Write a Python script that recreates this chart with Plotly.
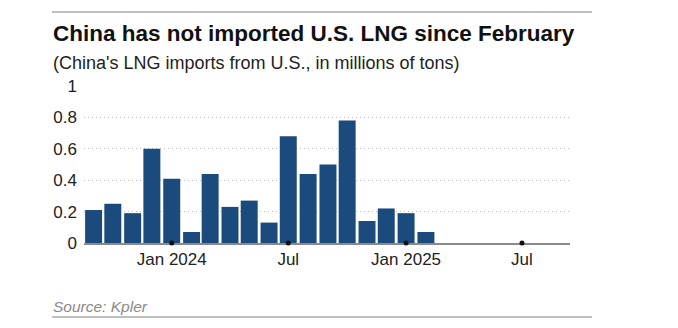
import plotly.graph_objects as go

# Monthly China LNG imports from the U.S. (million tons)
months = ["2023-09-01", "2023-10-01", "2023-11-01", "2023-12-01",
          "2024-01-01", "2024-02-01", "2024-03-01", "2024-04-01",
          "2024-05-01", "2024-06-01", "2024-07-01", "2024-08-01",
          "2024-09-01", "2024-10-01", "2024-11-01", "2024-12-01",
          "2025-01-01", "2025-02-01"]
imports = [0.21, 0.25, 0.19, 0.60, 0.41, 0.07, 0.44, 0.23, 0.27,
           0.13, 0.68, 0.44, 0.50, 0.78, 0.14, 0.22, 0.19, 0.07]

tick_dates = ["2024-01-01", "2024-07-01", "2025-01-01", "2025-07-01"]
tick_labels = ["Jan 2024", "Jul", "Jan 2025", "Jul"]
y_ticks = [0, 0.2, 0.4, 0.6, 0.8, 1]
y_tick_labels = ["0", "0.2", "0.4", "0.6", "0.8", "1"]

W, H = 678, 328
L, R, T, B = 84, 108, 86, 85
PW, PH = W - L - R, H - T - B


def px_x(px):
    return (px - L) / PW


def px_y(py):
    return (H - B - py) / PH


FONT = "Liberation Sans, Arial, sans-serif"
DAY_MS = 86400000

fig = go.Figure()
fig.add_trace(go.Bar(
    x=months, y=imports,
    width=[26.5 * DAY_MS] * len(months),
    marker=dict(color="#1b4a7c", line=dict(width=0)),
    hoverinfo="x+y",
))
fig.add_trace(go.Scatter(
    x=tick_dates, y=[0] * len(tick_dates),
    mode="markers",
    marker=dict(color="#111111", size=5),
    cliponaxis=False, hoverinfo="skip",
))

fig.update_layout(
    width=W, height=H,
    margin=dict(l=L, r=R, t=T, b=B),
    paper_bgcolor="white", plot_bgcolor="white",
    showlegend=False,
    font=dict(family=FONT, color="#222222", size=17),
    xaxis=dict(
        type="date",
        range=["2023-08-17", "2025-09-14"],
        tickvals=tick_dates, ticktext=tick_labels,
        ticks="", showgrid=False,
        showline=True, linecolor="#8a8a8a", linewidth=1.5,
        layer="below traces",
        tickfont=dict(size=17, color="#222222"),
        ticklabelstandoff=0,
        zeroline=False,
    ),
    yaxis=dict(
        range=[0, 1.0],
        tickvals=y_ticks, ticktext=y_tick_labels,
        ticks="", showline=False, zeroline=False,
        showgrid=True, gridcolor="#bdbdbd", griddash="1px,3px", gridwidth=1,
        tickfont=dict(size=17, color="#222222"),
        ticklabelstandoff=6,
    ),
    shapes=[
        dict(type="line", xref="paper", yref="paper",
             x0=px_x(52), x1=px_x(592), y0=px_y(12), y1=px_y(12),
             line=dict(color="#808080", width=1.2)),
        dict(type="line", xref="paper", yref="paper",
             x0=px_x(52), x1=px_x(592), y0=px_y(317), y1=px_y(317),
             line=dict(color="#808080", width=1.2)),
    ],
    annotations=[
        dict(text="<b>China has not imported U.S. LNG since February</b>",
             xref="paper", yref="paper", x=px_x(51), y=px_y(33),
             xanchor="left", yanchor="middle", showarrow=False,
             font=dict(size=22.5, color="#111111", family=FONT)),
        dict(text="(China's LNG imports from U.S., in millions of tons)",
             xref="paper", yref="paper", x=px_x(51), y=px_y(63),
             xanchor="left", yanchor="middle", showarrow=False,
             font=dict(size=18, color="#222222", family=FONT)),
        dict(text="<i>Source: Kpler</i>",
             xref="paper", yref="paper", x=px_x(51), y=px_y(306),
             xanchor="left", yanchor="middle", showarrow=False,
             font=dict(size=15.5, color="#8a8a8a", family=FONT)),
    ],
)

fig.write_html("out.html")
